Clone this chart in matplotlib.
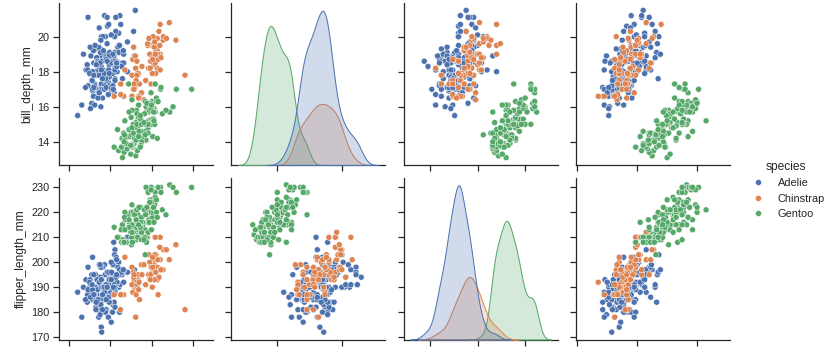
"""Pairplot de pingüinos: filas bill_depth / flipper_length contra las cuatro medidas."""
import matplotlib
matplotlib.use("Agg")
import matplotlib.pyplot as plt
import pandas as pd
import seaborn as sns

COLUMNS = ["bill_length_mm", "bill_depth_mm", "flipper_length_mm", "body_mass_g"]
SPECIES = ["Adelie", "Chinstrap", "Gentoo"]
X_VARS = COLUMNS
Y_VARS = ["bill_depth_mm", "flipper_length_mm"]

# (bill_length, bill_depth, flipper_length, body_mass)
ADELIE = [
    (39.1, 18.7, 181, 3750), (39.5, 17.4, 186, 3800), (40.3, 18.0, 195, 3250),
    (36.7, 19.3, 193, 3450), (39.3, 20.6, 190, 3650), (38.9, 17.8, 181, 3625),
    (39.2, 19.6, 195, 4675), (34.1, 18.1, 193, 3475), (42.0, 20.2, 190, 4250),
    (37.8, 17.1, 186, 3300), (37.8, 17.3, 180, 3700), (41.1, 17.6, 182, 3200),
    (38.6, 21.2, 191, 3800), (34.6, 21.1, 198, 4400), (36.6, 17.8, 185, 3700),
    (38.7, 19.0, 195, 3450), (42.5, 20.7, 197, 4500), (34.4, 18.4, 184, 3325),
    (46.0, 21.5, 194, 4200), (37.8, 18.3, 174, 3400), (37.7, 18.7, 180, 3600),
    (35.9, 19.2, 189, 3800), (38.2, 18.1, 185, 3950), (38.8, 17.2, 180, 3800),
    (35.3, 18.9, 187, 3800), (40.6, 18.6, 183, 3550), (40.5, 17.9, 187, 3200),
    (37.9, 18.6, 172, 3150), (40.5, 18.9, 180, 3950), (39.5, 16.7, 178, 3250),
    (37.2, 18.1, 178, 3900), (39.5, 17.8, 188, 3300), (40.9, 18.9, 184, 3900),
    (36.4, 17.0, 195, 3325), (39.2, 21.1, 196, 4150), (38.8, 20.0, 190, 3950),
    (42.2, 18.5, 180, 3550), (37.6, 19.3, 181, 3300), (39.8, 19.1, 184, 4650),
    (36.5, 18.0, 182, 3150), (40.8, 18.4, 195, 3900), (36.0, 18.5, 186, 3100),
    (44.1, 19.7, 196, 4400), (37.0, 16.9, 185, 3000), (39.6, 18.8, 190, 4600),
    (41.1, 19.0, 182, 3425), (37.5, 18.9, 179, 2975), (36.0, 17.9, 190, 3450),
    (42.3, 21.2, 191, 4150), (39.6, 17.7, 186, 3500), (40.1, 18.9, 188, 4300),
    (35.0, 17.9, 190, 3450), (42.0, 19.5, 200, 4050), (34.5, 18.1, 187, 2900),
    (41.4, 18.6, 191, 3700), (39.0, 17.5, 186, 3550), (40.6, 18.8, 193, 3800),
    (36.5, 16.6, 181, 2850), (37.6, 19.1, 194, 3750), (35.7, 16.9, 185, 3150),
    (41.3, 21.1, 195, 4400), (37.6, 17.0, 185, 3600), (41.1, 18.2, 192, 4050),
    (36.4, 17.1, 184, 2850), (41.6, 18.0, 192, 3950), (35.5, 16.2, 195, 3350),
    (41.1, 19.1, 188, 4100), (35.9, 16.6, 190, 3050), (41.8, 19.4, 198, 4450),
    (33.5, 19.0, 190, 3600), (39.7, 18.4, 190, 3900), (39.6, 17.2, 196, 3550),
    (45.8, 18.9, 197, 4150), (35.5, 17.5, 190, 3700), (42.8, 18.5, 195, 4250),
    (40.9, 16.8, 191, 3700), (37.2, 19.4, 184, 3900), (36.2, 16.1, 187, 3550),
    (42.1, 19.1, 195, 4000), (34.6, 17.2, 189, 3200), (42.9, 17.6, 196, 4700),
    (36.7, 18.8, 187, 3800), (35.1, 19.4, 193, 4200), (37.3, 17.8, 191, 3350),
    (41.3, 20.3, 194, 3550), (36.3, 19.5, 190, 3800), (36.9, 18.6, 189, 3500),
    (38.3, 19.2, 189, 3950), (38.9, 18.8, 190, 3600), (35.7, 18.0, 202, 3550),
    (41.1, 18.1, 205, 4300), (34.0, 17.1, 185, 3400), (39.6, 18.1, 186, 4450),
    (36.2, 17.3, 187, 3300), (40.8, 18.9, 208, 4300), (38.1, 18.6, 190, 3700),
    (40.3, 18.5, 196, 4350), (33.1, 16.1, 178, 2900), (43.2, 18.5, 192, 4100),
    (35.0, 17.9, 192, 3725), (41.0, 20.0, 203, 4725), (37.7, 16.0, 183, 3075),
    (37.8, 20.0, 190, 4250), (37.9, 18.6, 193, 2925), (39.7, 18.9, 184, 3550),
    (38.6, 17.2, 199, 3750), (38.2, 20.0, 190, 3900), (38.1, 17.0, 181, 3175),
    (43.2, 19.0, 197, 4775), (38.1, 16.5, 198, 3825), (45.6, 20.3, 191, 4600),
    (39.7, 17.7, 193, 3200), (42.2, 19.5, 197, 4275), (39.6, 20.7, 191, 3900),
    (42.7, 18.3, 196, 4075), (38.6, 17.0, 188, 2900), (37.3, 20.5, 199, 3775),
    (35.7, 17.0, 189, 3350), (41.1, 18.6, 189, 3325), (36.2, 17.2, 187, 3150),
    (37.7, 19.8, 198, 3500), (40.2, 17.0, 176, 3450), (41.4, 18.5, 202, 3875),
    (35.2, 15.9, 186, 3050), (40.6, 19.0, 199, 4000), (38.8, 17.6, 191, 3275),
    (41.5, 18.3, 195, 4300), (39.0, 17.1, 191, 3050), (44.1, 18.0, 210, 4000),
    (38.5, 17.9, 190, 3325), (43.1, 19.2, 197, 3500), (36.8, 18.5, 193, 3500),
    (37.5, 18.5, 199, 4475), (38.1, 17.6, 187, 3425), (41.1, 17.5, 190, 3900),
    (35.6, 17.5, 191, 3175), (40.2, 20.1, 200, 3975), (37.0, 16.5, 185, 3400),
    (39.7, 17.9, 193, 4250), (40.2, 17.1, 193, 3400), (40.6, 17.2, 187, 3475),
    (32.1, 15.5, 188, 3050), (40.7, 17.0, 190, 3725), (37.3, 16.8, 192, 3000),
    (39.0, 18.7, 185, 3650), (39.2, 18.6, 190, 4250), (36.6, 18.4, 184, 3475),
    (36.0, 17.8, 195, 3450), (37.8, 18.1, 193, 3750), (36.0, 17.1, 187, 3700),
    (41.5, 18.5, 201, 4000),
]

CHINSTRAP = [
    (46.5, 17.9, 192, 3500), (50.0, 19.5, 196, 3900), (51.3, 19.2, 193, 3650),
    (45.4, 18.7, 188, 3525), (52.7, 19.8, 197, 3725), (45.2, 17.8, 198, 3950),
    (46.1, 18.2, 178, 3250), (51.3, 18.2, 197, 3750), (46.0, 18.9, 195, 4150),
    (51.3, 19.9, 198, 3700), (46.6, 17.8, 193, 3800), (51.7, 20.3, 194, 3775),
    (47.0, 17.3, 185, 3700), (52.0, 18.1, 201, 4050), (45.9, 17.1, 190, 3575),
    (50.5, 19.6, 201, 4050), (50.3, 20.0, 197, 3300), (58.0, 17.8, 181, 3700),
    (46.4, 18.6, 190, 3450), (49.2, 18.2, 195, 4400), (42.4, 17.3, 181, 3600),
    (48.5, 17.5, 191, 3400), (43.2, 16.6, 187, 2900), (50.6, 19.4, 193, 3800),
    (46.7, 17.9, 195, 3300), (52.0, 19.0, 197, 4150), (50.5, 18.4, 200, 3400),
    (49.5, 19.0, 200, 3800), (46.4, 17.8, 191, 3700), (52.8, 20.0, 205, 4550),
    (40.9, 16.6, 187, 3200), (54.2, 20.8, 201, 4300), (42.5, 16.7, 187, 3350),
    (51.0, 18.8, 203, 4100), (49.7, 18.6, 195, 3600), (47.5, 16.8, 199, 3900),
    (47.6, 18.3, 195, 3850), (52.0, 20.7, 210, 4800), (46.9, 16.6, 192, 2700),
    (53.5, 19.9, 205, 4500), (49.0, 19.5, 210, 3950), (46.2, 17.5, 187, 3650),
    (50.9, 19.1, 196, 3550), (45.5, 17.0, 196, 3500), (50.9, 17.9, 196, 3675),
    (50.8, 18.5, 201, 4450), (50.1, 17.9, 190, 3400), (49.0, 19.6, 212, 4300),
    (51.5, 18.7, 187, 3250), (49.8, 17.3, 198, 3675), (48.1, 16.4, 199, 3325),
    (51.4, 19.0, 201, 3950), (45.7, 17.3, 193, 3600), (50.7, 19.7, 203, 4050),
    (42.5, 17.3, 187, 3350), (52.2, 18.8, 197, 3450), (45.2, 16.6, 191, 3250),
    (49.3, 19.9, 203, 4050), (50.2, 18.8, 202, 3800), (45.6, 19.4, 194, 3525),
    (51.9, 19.5, 206, 3950), (46.8, 16.5, 189, 3650), (45.7, 17.0, 195, 3650),
    (55.8, 19.8, 207, 4000), (43.5, 18.1, 202, 3400), (49.6, 18.2, 193, 3775),
    (50.8, 19.0, 210, 4100), (50.2, 18.7, 198, 3775),
]

GENTOO = [
    (46.1, 13.2, 211, 4500), (50.0, 16.3, 230, 5700), (48.7, 14.1, 210, 4450),
    (50.0, 15.2, 218, 5700), (47.6, 14.5, 215, 5400), (46.5, 13.5, 210, 4550),
    (45.4, 14.6, 211, 4800), (46.7, 15.3, 219, 5200), (43.3, 13.4, 209, 4400),
    (46.8, 15.4, 215, 5150), (40.9, 13.7, 214, 4650), (49.0, 16.1, 216, 5550),
    (45.5, 13.7, 214, 4650), (48.4, 14.6, 213, 5850), (45.8, 14.6, 210, 4200),
    (49.3, 15.7, 217, 5850), (42.0, 13.5, 210, 4150), (49.2, 15.2, 221, 6300),
    (46.2, 14.5, 209, 4800), (48.7, 15.1, 222, 5350), (50.2, 14.3, 218, 5700),
    (45.1, 14.5, 215, 5000), (46.5, 14.5, 213, 4400), (46.3, 15.8, 215, 5050),
    (42.9, 13.1, 215, 5000), (46.1, 15.1, 215, 5100), (44.5, 14.3, 216, 4100),
    (47.8, 15.0, 215, 5650), (48.2, 14.3, 210, 4600), (50.0, 15.3, 220, 5550),
    (47.3, 15.3, 222, 5250), (42.8, 14.2, 209, 4700), (45.1, 14.5, 207, 5050),
    (59.6, 17.0, 230, 6050), (49.1, 14.8, 220, 5150), (48.4, 16.3, 220, 5400),
    (42.6, 13.7, 213, 4950), (44.4, 17.3, 219, 5250), (44.0, 13.6, 208, 4350),
    (48.7, 15.7, 208, 5350), (42.7, 13.7, 208, 3950), (49.6, 16.0, 225, 5700),
    (45.3, 13.7, 210, 4300), (49.6, 15.0, 216, 4750), (50.5, 15.9, 222, 5550),
    (43.6, 13.9, 217, 4900), (45.5, 13.9, 210, 4200), (50.5, 15.9, 225, 5400),
    (44.9, 13.3, 213, 5100), (45.2, 15.8, 215, 5300), (46.6, 14.2, 210, 4850),
    (48.5, 14.1, 220, 5300), (45.1, 14.4, 210, 4400), (50.1, 15.0, 225, 5000),
    (46.5, 14.4, 217, 4900), (45.0, 15.4, 220, 5050), (43.8, 13.9, 208, 4300),
    (45.5, 15.0, 220, 5000), (43.2, 14.5, 208, 4450), (50.4, 15.3, 224, 5550),
    (45.3, 13.8, 208, 4200), (46.2, 14.9, 221, 5300), (45.7, 13.9, 214, 4400),
    (54.3, 15.7, 231, 5650), (45.8, 14.2, 219, 4700), (49.8, 16.8, 230, 5700),
    (46.2, 14.4, 214, 4650), (49.5, 16.2, 229, 5800), (43.5, 14.2, 220, 4700),
    (50.7, 15.0, 223, 5550), (47.7, 15.0, 216, 4750), (46.4, 15.6, 221, 5000),
    (48.2, 15.6, 221, 5100), (46.5, 14.8, 217, 5200), (46.4, 15.0, 216, 4700),
    (48.6, 16.0, 230, 5800), (47.5, 14.2, 209, 4600), (51.1, 16.3, 220, 6000),
    (45.2, 13.8, 215, 4750), (45.2, 16.4, 223, 5950), (49.1, 14.5, 212, 4625),
    (52.5, 15.6, 221, 5450), (47.4, 14.6, 212, 4725), (50.0, 15.9, 224, 5350),
    (44.9, 13.8, 212, 4750), (50.8, 17.3, 228, 5600), (43.4, 14.4, 218, 4600),
    (51.3, 14.2, 218, 5300), (47.5, 14.0, 212, 4875), (52.1, 17.0, 230, 5550),
    (47.5, 15.0, 218, 4950), (52.2, 17.1, 228, 5400), (45.5, 14.5, 212, 4750),
    (49.5, 16.1, 224, 5650), (44.5, 14.7, 214, 4850), (50.8, 15.7, 226, 5200),
    (49.4, 15.8, 216, 4925), (46.9, 14.6, 222, 4875), (48.4, 14.4, 203, 4625),
    (51.1, 16.5, 225, 5250), (48.5, 15.0, 219, 4850), (55.9, 17.0, 228, 5600),
    (47.2, 15.5, 215, 4975), (49.1, 15.0, 228, 5500), (47.3, 13.8, 216, 4725),
    (46.8, 16.1, 215, 5500), (41.7, 14.7, 210, 4700), (53.4, 15.8, 219, 5500),
    (43.3, 14.0, 208, 4575), (48.1, 15.1, 209, 5500), (50.5, 15.2, 216, 5000),
    (49.8, 15.9, 229, 5950), (43.5, 15.2, 213, 4650), (51.5, 16.3, 230, 5500),
    (46.2, 14.1, 217, 4375), (55.1, 16.0, 230, 5850), (44.5, 15.7, 217, 4875),
    (48.8, 16.2, 222, 6000), (47.2, 13.7, 214, 4925), (46.8, 14.3, 215, 4850),
    (50.4, 15.7, 222, 5750), (45.2, 14.8, 212, 5200), (49.9, 16.1, 213, 5400),
]

# rango x de la primera y última columna (en la rejilla completa lo fija el KDE)
XLIM_BILL_LENGTH = (27.6, 64.8)
XLIM_BODY_MASS = (1950, 7100)


def build_frame():
    frames = []
    for name, rows in zip(SPECIES, [ADELIE, CHINSTRAP, GENTOO]):
        f = pd.DataFrame(rows, columns=COLUMNS)
        f["species"] = name
        frames.append(f)
    return pd.concat(frames, ignore_index=True)


def main():
    penguins = build_frame()
    sns.set_theme(style="ticks")
    plt.rcParams["font.family"] = ["Liberation Sans", "DejaVu Sans"]

    g = sns.pairplot(penguins, hue="species", hue_order=SPECIES,
                     x_vars=X_VARS, y_vars=Y_VARS)
    fig = g.figure
    fig.set_dpi(72)
    fig.set_size_inches(835 / 72, 349 / 72)
    fig.subplots_adjust(left=59 / 835, right=730 / 835,
                        top=1 - 3 / 349, bottom=1 - 339.5 / 349,
                        wspace=18 / 154, hspace=12.5 / 162)
    g.axes[0, 0].set_xlim(*XLIM_BILL_LENGTH)
    g.axes[0, 3].set_xlim(*XLIM_BODY_MASS)
    # la imagen original está recortada: sin etiquetas en el eje x inferior
    for ax in g.axes[-1]:
        ax.set_xlabel("")
        ax.tick_params(labelbottom=False)
    g._legend.set_bbox_to_anchor((1.0, 0.456), transform=fig.transFigure)
    fig.savefig("out.png", dpi=72)


if __name__ == "__main__":
    main()
